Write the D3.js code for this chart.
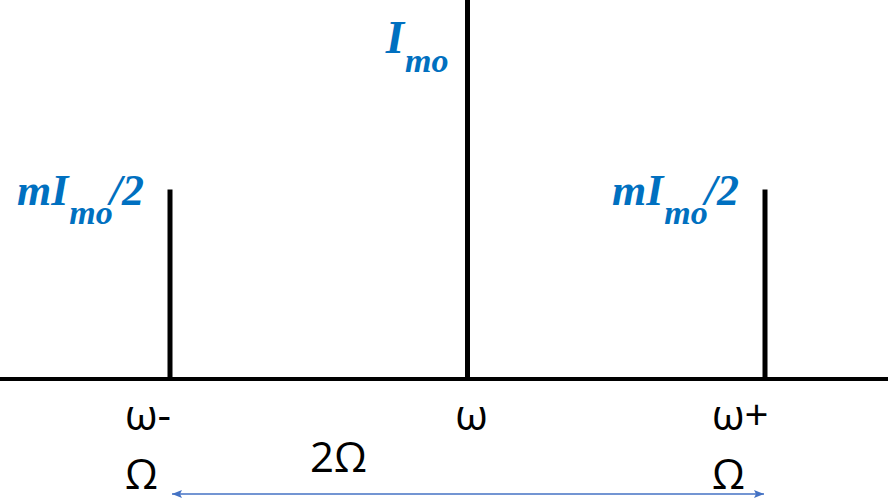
<!DOCTYPE html>
<html>
<head>
<meta charset="utf-8">
<script src="https://cdn.jsdelivr.net/npm/d3@7"></script>
<style>
  html, body { margin: 0; padding: 0; background: #fff; }
  svg { display: block; }
</style>
</head>
<body>
<script>
// Spectrum of an amplitude-modulated signal: carrier plus two side lines
const categories = ["ω-Ω", "ω", "ω+Ω"];
const amplitudes = [0.5, 1, 0.5];
// amplitude labels: [main, subscript, suffix]
const ampLabels = [["mI", "mo", "/2"], ["I", "mo", ""], ["mI", "mo", "/2"]];
// frequency labels, each split over lines
const freqLabels = [["ω-", "Ω"], ["ω"], ["ω+", "Ω"]];
const spanLabel = "2Ω";

const W = 888, H = 500;
const baseY = 379;
const blue = "#0070C0";
const arrowBlue = "#4472C4";

const svg = d3.select("body").append("svg")
  .attr("width", W).attr("height", H);

const x = d3.scalePoint().domain(categories).range([170, 765]);
const y = d3.scaleLinear().domain([0, 1]).range([baseY, 0]);

// horizontal frequency axis
svg.append("line")
  .attr("x1", 0).attr("x2", W)
  .attr("y1", y(0)).attr("y2", y(0))
  .attr("stroke", "#000").attr("stroke-width", 4);

// spectral lines
svg.selectAll("line.spec")
  .data(categories)
  .join("line")
  .attr("class", "spec")
  .attr("x1", d => x(d)).attr("x2", d => x(d))
  .attr("y1", y(0)).attr("y2", (d, i) => y(amplitudes[i]))
  .attr("stroke", "#000").attr("stroke-width", 5);

// amplitude labels (bold italic serif with subscript)
const amp = svg.selectAll("text.amp")
  .data(categories)
  .join("text")
  .attr("class", "amp")
  .attr("text-anchor", "end")
  .attr("x", (d, i) => x(d) - (i === 1 ? 19 : 26))
  .attr("y", (d, i) => y(amplitudes[i]) + (i === 1 ? 53 : 15))
  .attr("fill", blue)
  .attr("font-family", "'Liberation Serif', 'Times New Roman', serif")
  .attr("font-weight", "bold")
  .attr("font-style", "italic")
  .attr("font-size", (d, i) => i === 1 ? 47 : 44);

amp.each(function(d, i) {
  const t = d3.select(this);
  const [main, sub, suf] = ampLabels[i];
  t.append("tspan").text(main);
  t.append("tspan").attr("dy", 19).attr("dx", 1).attr("font-size", 34).text(sub);
  if (suf) t.append("tspan").attr("dy", -19).attr("dx", -3).text(suf);
});

// frequency labels under the axis
const offsets = [-45, 4, -53];
svg.selectAll("text.freq")
  .data(categories)
  .join("text")
  .attr("class", "freq")
  .attr("font-family", "'Open Sans', 'Noto Sans', sans-serif")
  .attr("font-size", 42)
  .attr("fill", "#000")
  .attr("text-anchor", (d, i) => i === 1 ? "middle" : "start")
  .each(function(d, i) {
    const t = d3.select(this);
    freqLabels[i].forEach((s, k) => {
      t.append("tspan")
        .attr("x", x(d) + offsets[i])
        .attr("y", 430 + k * 59)
        .text(s);
    });
  });

// separation arrow between the side lines
const defs = svg.append("defs");
["start", "end"].forEach(kind => {
  defs.append("marker")
    .attr("id", "arrow-" + kind)
    .attr("viewBox", "0 0 10 8")
    .attr("refX", kind === "end" ? 10 : 0)
    .attr("refY", 4)
    .attr("markerWidth", 10)
    .attr("markerHeight", 8)
    .attr("markerUnits", "userSpaceOnUse")
    .attr("orient", "auto")
    .append("path")
    .attr("d", kind === "end" ? "M0,0 L10,4 L0,8 L2,4 Z" : "M10,0 L0,4 L10,8 L8,4 Z")
    .attr("fill", arrowBlue);
});

svg.append("line")
  .attr("x1", x(categories[0]) + 2)
  .attr("x2", x(categories[2]) - 1)
  .attr("y1", 494).attr("y2", 494)
  .attr("stroke", arrowBlue).attr("stroke-width", 1.5)
  .attr("marker-start", "url(#arrow-start)")
  .attr("marker-end", "url(#arrow-end)");

svg.append("text")
  .attr("x", x(categories[0]) + 140)
  .attr("y", 472)
  .attr("font-family", "'Open Sans', 'Noto Sans', sans-serif")
  .attr("font-size", 42)
  .attr("fill", "#000")
  .text(spanLabel);
</script>
</body>
</html>
